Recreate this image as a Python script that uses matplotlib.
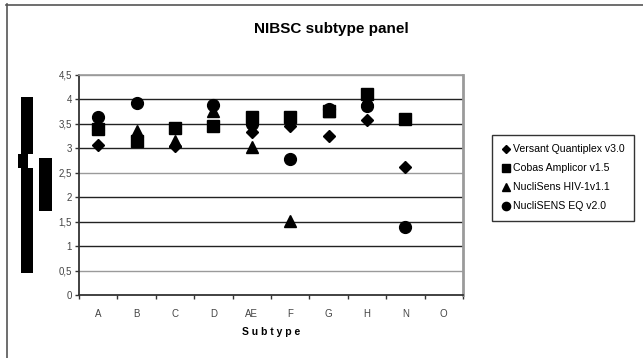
# NIBSC subtype panel - scatter of log values per subtype, 4 assays
import numpy as np
import matplotlib.pyplot as plt
from matplotlib.patches import Rectangle
from matplotlib.lines import Line2D

nan = np.nan

# data
subtypes = ['A', 'B', 'C', 'D', 'AE', 'F', 'G', 'H', 'N', 'O']
versant = [3.07, 3.20, 3.05, 3.45, 3.33, 3.46, 3.26, 3.58, 2.62, nan]
cobas = [3.39, 3.15, 3.41, 3.46, 3.65, 3.65, 3.76, 4.12, 3.60, nan]
nuclisens = [3.50, 3.36, 3.14, 3.77, 3.02, 1.52, 3.76, 4.00, nan, nan]
nuclisens_eq = [3.65, 3.92, nan, 3.89, 3.50, 2.79, 3.80, 3.87, 1.40, nan]
yticks = [0, 0.5, 1, 1.5, 2, 2.5, 3, 3.5, 4, 4.5]
ytick_labels = ['0', '0,5', '1', '1,5', '2', '2,5', '3', '3,5', '4', '4,5']

series = [
    ('Versant Quantiplex v3.0', versant, 'D', 6.5),
    ('Cobas Amplicor v1.5', cobas, 's', 8.0),
    ('NucliSens HIV-1v1.1', nuclisens, '^', 8.0),
    ('NucliSENS EQ v2.0', nuclisens_eq, 'o', 8.5),
]

plt.rcParams['font.family'] = ['Liberation Sans', 'DejaVu Sans']

W, H = 643, 358
fig = plt.figure(figsize=(W / 100, H / 100), dpi=100)
ax = fig.add_axes([79 / W, 1 - 295 / H, (463 - 79) / W, (295 - 75) / H])

x = np.arange(len(subtypes))
for name, vals, mk, ms in series:
    ax.plot(x, vals, linestyle='none', marker=mk, markersize=ms,
            color='black', label=name, zorder=3)

ax.set_xlim(-0.5, len(subtypes) - 0.5)
ax.set_ylim(0, 4.5)

# gridlines, some darker than others as in the picture
for v in yticks[1:]:
    c = '#9a9a9a' if v in (0.5, 2.5, 4.5) else '#222222'
    ax.axhline(v, color=c, linewidth=1.0, zorder=1)

ax.set_yticks(yticks)
ax.set_yticklabels(ytick_labels)
ax.set_xticks(np.arange(len(subtypes) + 1) - 0.5)
ax.set_xticklabels([])
ax.set_xticks(x, minor=True)
ax.set_xticklabels(subtypes, minor=True)
ax.tick_params(axis='both', which='major', length=3, width=1, color='#333333',
               labelsize=7, labelcolor='#444444')
ax.tick_params(axis='x', which='minor', length=0, pad=10, labelsize=7,
               labelcolor='#444444')
ax.tick_params(axis='y', pad=2)

for s in ['left', 'bottom']:
    ax.spines[s].set_color('#333333')
    ax.spines[s].set_linewidth(1.3)
ax.spines['right'].set_color('#9a9a9a')
ax.spines['right'].set_linewidth(2)
ax.spines['top'].set_color('#9a9a9a')
ax.spines['top'].set_linewidth(1.2)

ax.set_xlabel('S u b t y p e', fontsize=7.5, fontweight='bold', labelpad=6)
fig.text(331 / W, 1 - 29 / H, 'NIBSC subtype panel', ha='center', va='center',
         fontsize=11, fontweight='bold')

handles = [Line2D([], [], linestyle='none', marker=mk, markersize=ms * 0.7,
                  color='black') for _, _, mk, ms in series]
leg = fig.legend(handles, [s[0] for s in series], loc='upper left',
                 bbox_to_anchor=(492 / W, 1 - 135 / H), fontsize=7.6,
                 frameon=True, fancybox=False, handlelength=0.8,
                 handletextpad=0.3, labelspacing=0.85, borderpad=0.9,
                 borderaxespad=0)
leg.get_frame().set_edgecolor('black')
leg.get_frame().set_linewidth(1)

# outer chart frame (top and left)
fig.add_artist(Line2D([6 / W, 1], [1 - 4.5 / H, 1 - 4.5 / H],
                      transform=fig.transFigure, color='#555555', linewidth=1.2))
fig.add_artist(Line2D([6.5 / W, 6.5 / W], [1 - 4 / H, 0],
                      transform=fig.transFigure, color='#555555', linewidth=1.2))


# black blocks on the left (broken axis title in the original)
def block(x0, y0, x1, y1, color='black'):
    fig.add_artist(Rectangle((x0 / W, 1 - y1 / H), (x1 - x0) / W, (y1 - y0) / H,
                             transform=fig.transFigure, color=color, lw=0))


block(20.7, 97, 32.7, 273)
block(18.3, 154, 21, 167.7)
block(28.3, 154, 32.7, 167.7, color='white')
block(38.5, 158, 51.5, 211)

fig.savefig('out.png', dpi=100)
